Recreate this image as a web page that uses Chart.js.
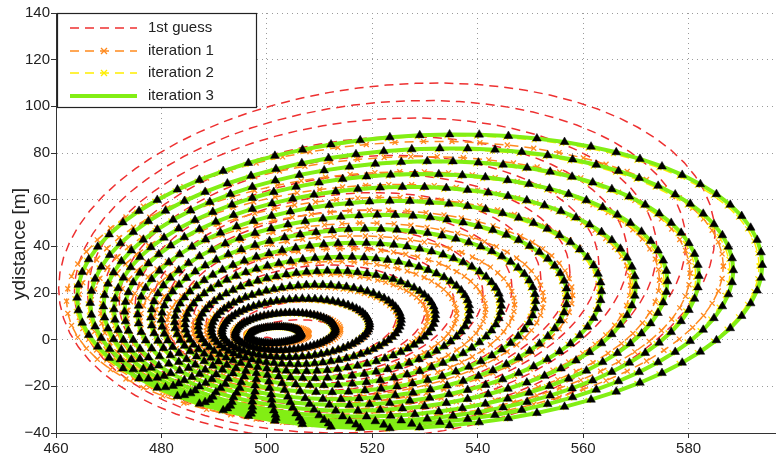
<!DOCTYPE html>
<html>
<head>
<meta charset="utf-8">
<script src="https://cdn.jsdelivr.net/npm/chart.js@4.4.0/dist/chart.umd.min.js"></script>
<style>
  html, body { margin: 0; padding: 0; background: #fff; overflow: hidden; }
  #wrap { width: 776px; height: 458px; overflow: hidden; }
  canvas { display: block; }
</style>
</head>
<body>
<div id="wrap"><canvas id="chart" width="840" height="480"></canvas></div>
<script>
// legend names
const seriesNames = ['1st guess', 'iteration 1', 'iteration 2', 'iteration 3'];

// axis ticks
const xTicks = [460, 480, 500, 520, 540, 560, 580, 600];
const yTicks = [-40, -20, 0, 20, 40, 60, 80, 100, 120, 140];

// every ring, inner -> outer:
// left / right x extent, top / bottom y extent, y lift of the rightmost point
const guessLeft   = [499, 496.5, 494, 491, 488.5, 486, 483, 480.5, 478, 475, 472, 469, 466, 463.5, 460.5];
const guessRight  = [501, 513.5, 519, 524.5, 530, 535.5, 541, 546.5, 552, 557.5, 563, 568.5, 574, 579.5, 585];
const guessTop    = [1, 8.5, 16.5, 24, 32, 40, 48, 55.5, 63, 71, 79, 87, 95, 102.5, 110];
const guessBottom = [-1, -4, -7, -10, -13, -16, -19, -22, -25, -28, -31, -34, -37, -40, -43];
const guessTilt   = [0, 1, 1.5, 2.5, 3, 4, 5, 5.5, 6.5, 7, 8, 9, 9.5, 10.5, 11.5];

const iter1Left   = [496, 493.5, 491, 488.5, 486, 483.5, 481, 478.5, 476, 473.5, 471, 468.5, 466.5, 464.2, 462];
const iter1Right  = [508, 514, 519.5, 525, 530.5, 536, 541.5, 547, 552.5, 558, 563.5, 569, 574.5, 580.3, 586.6];
const iter1Top    = [6, 11.5, 17, 22.5, 28, 33.5, 39, 44.5, 50, 55.5, 61, 66.5, 72, 78.5, 85];
const iter1Bottom = [-2, -5, -8, -11, -14, -17, -20, -22.5, -25, -27.5, -30, -32, -34, -35.5, -37];
const iter1Tilt   = [0.5, 1, 1.5, 2, 2.5, 3, 3.5, 4, 4.5, 5, 5.5, 6, 6.5, 7, 7.5];

const iter2Left   = [496.3, 493.8, 491.3, 489.2, 486.7, 484.2, 482.2, 479.7, 477.7, 475.2, 472.7, 470.6, 468.6, 466.1, 463.6];
const iter2Right  = [506.2, 512.6, 519.1, 525.1, 531.5, 538, 544, 550.5, 556.5, 563, 569.4, 575.4, 581.4, 587.9, 593.4];
const iter2Top    = [5.2, 11.1, 17.1, 23, 29, 35, 41, 47, 53, 59, 65, 70.5, 76, 81.4, 87.4];
const iter2Bottom = [-1.7, -4.8, -7.8, -10.8, -13.8, -16.8, -19.8, -22.8, -25.8, -28.3, -30.8, -33.3, -35.3, -36.8, -38.3];
const iter2Tilt   = [0.5, 1, 1.5, 2, 2.5, 3, 3.5, 4, 4.5, 5, 5.5, 6, 6.5, 7, 7];

const iter3Left   = [496.5, 494, 491.5, 489.5, 487, 484.5, 482.5, 480, 478, 475.5, 473, 471, 469, 466.5, 464];
const iter3Right  = [506.5, 513, 519.5, 525.5, 532, 538.5, 544.5, 551, 557, 563.5, 570, 576, 582, 588.5, 594];
const iter3Top    = [5.5, 11.5, 17.5, 23.5, 29.5, 35.5, 41.5, 47.5, 53.5, 59.5, 65.5, 71, 76.5, 82, 88];
const iter3Bottom = [-1.5, -4.5, -7.5, -10.5, -13.5, -16.5, -19.5, -22.5, -25.5, -28, -30.5, -33, -35, -36.5, -38];
const iter3Tilt   = [0.5, 1, 1.5, 2, 2.5, 3, 3.5, 4, 4.5, 5, 5.5, 6, 6.5, 7, 7];

const ringSamples = 72;
const FONT = "'Liberation Sans', Arial, sans-serif";

// trace each ring through its extents, with a gap between rings
function rings(left, right, top, bottom, tilt, closed) {
  const pts = [];
  left.forEach((l, k) => {
    const cx = (l + right[k]) / 2, ax = (right[k] - l) / 2;
    const cy = (top[k] + bottom[k]) / 2, bt = (top[k] - bottom[k]) / 2;
    const by = Math.sqrt(Math.max(bt * bt - tilt[k] * tilt[k], 0));
    const n = closed ? ringSamples + 1 : ringSamples;
    for (let j = 0; j < n; j++) {
      const t = 2 * Math.PI * j / ringSamples;
      pts.push({ x: cx + ax * Math.cos(t), y: cy + tilt[k] * Math.cos(t) + by * Math.sin(t) });
    }
    pts.push({ x: l, y: null });
  });
  return pts;
}

const styles = [
  { color: '#ee3030', width: 1.5, dash: [9, 6], marker: false },
  { color: '#ff8a1e', width: 1.5, dash: [9, 6], marker: true },
  { color: '#ffee00', width: 1.5, dash: [9, 6], marker: true },
  { color: '#82ee14', width: 4, dash: [], marker: false }
];

function lineSet(i, data, order) {
  const s = styles[i];
  return {
    label: seriesNames[i], data: data, showLine: true, order: order,
    borderColor: s.color, borderWidth: s.width, borderDash: s.dash, tension: 0,
    pointRadius: s.marker ? 3.5 : 0, pointStyle: 'crossRot',
    pointBorderColor: s.color, pointBorderWidth: 1.3
  };
}

const legendBox = {
  id: 'legendBox',
  afterDraw(chart) {
    const ctx = chart.ctx;
    ctx.save();
    ctx.fillStyle = '#fff';
    ctx.fillRect(57, 13, 200, 95);
    ctx.strokeStyle = '#222';
    ctx.lineWidth = 1.2;
    ctx.strokeRect(57.5, 13.5, 199, 94);
    const rowY = [28, 51, 73, 96];
    styles.forEach((s, i) => {
      const y = rowY[i];
      ctx.strokeStyle = s.color;
      ctx.lineWidth = s.width;
      ctx.setLineDash(s.dash);
      ctx.beginPath();
      ctx.moveTo(70, y);
      ctx.lineTo(137, y);
      ctx.stroke();
      ctx.setLineDash([]);
      if (s.marker) {
        ctx.lineWidth = 1.3;
        ctx.beginPath();
        ctx.moveTo(101, y - 3); ctx.lineTo(107, y + 3);
        ctx.moveTo(101, y + 3); ctx.lineTo(107, y - 3);
        ctx.stroke();
      }
      ctx.fillStyle = '#222';
      ctx.font = '15px ' + FONT;
      ctx.textAlign = 'left';
      ctx.textBaseline = 'middle';
      ctx.fillText(seriesNames[i], 148, y);
    });
    // y axis title
    ctx.translate(20, 244);
    ctx.rotate(-Math.PI / 2);
    ctx.font = '19px ' + FONT;
    ctx.textAlign = 'center';
    ctx.fillText('ydistance [m]', 0, 0);
    ctx.restore();
  }
};

const tickFont = { family: FONT, size: 15 };
const minus = v => String(v).replace('-', '\u2212');

new Chart(document.getElementById('chart'), {
  type: 'scatter',
  data: {
    datasets: [
      lineSet(0, rings(guessLeft, guessRight, guessTop, guessBottom, guessTilt, true), 4),
      lineSet(1, rings(iter1Left, iter1Right, iter1Top, iter1Bottom, iter1Tilt, true), 3),
      lineSet(2, rings(iter2Left, iter2Right, iter2Top, iter2Bottom, iter2Tilt, true), 2),
      lineSet(3, rings(iter3Left, iter3Right, iter3Top, iter3Bottom, iter3Tilt, true), 1),
      {
        label: 'points', order: 0, showLine: false,
        data: rings(iter3Left, iter3Right, iter3Top, iter3Bottom, iter3Tilt, false),
        pointStyle: 'triangle', pointRadius: 5,
        backgroundColor: '#000', borderColor: '#000', borderWidth: 0.5
      }
    ]
  },
  options: {
    responsive: false,
    animation: false,
    events: [],
    layout: { padding: { top: 13, right: 46, left: 0, bottom: 0 } },
    plugins: { legend: { display: false }, tooltip: { enabled: false } },
    scales: {
      x: {
        type: 'linear', min: xTicks[0], max: xTicks[xTicks.length - 1],
        afterFit: s => { s.height = 47; },
        afterBuildTicks: s => { s.ticks = xTicks.map(v => ({ value: v })); },
        ticks: { padding: 2, color: '#222', font: tickFont, maxRotation: 0, callback: minus },
        grid: { color: '#9a9a9a', tickColor: '#333', tickLength: 5, tickBorderDash: [] },
        border: { display: true, color: '#333', width: 1, dash: [1, 4] },
        title: { display: true, text: 'xdistance [m]', color: '#222', font: tickFont, padding: { top: 0, bottom: 5 } }
      },
      y: {
        type: 'linear', min: yTicks[0], max: yTicks[yTicks.length - 1],
        afterFit: s => { s.width = 56; },
        afterBuildTicks: s => { s.ticks = yTicks.map(v => ({ value: v })); },
        ticks: { padding: 1, color: '#222', font: tickFont, callback: minus },
        grid: { color: '#9a9a9a', tickColor: '#333', tickLength: 5, tickBorderDash: [] },
        border: { display: true, color: '#333', width: 1, dash: [1, 4] }
      }
    }
  },
  plugins: [legendBox]
});
</script>
</body>
</html>
